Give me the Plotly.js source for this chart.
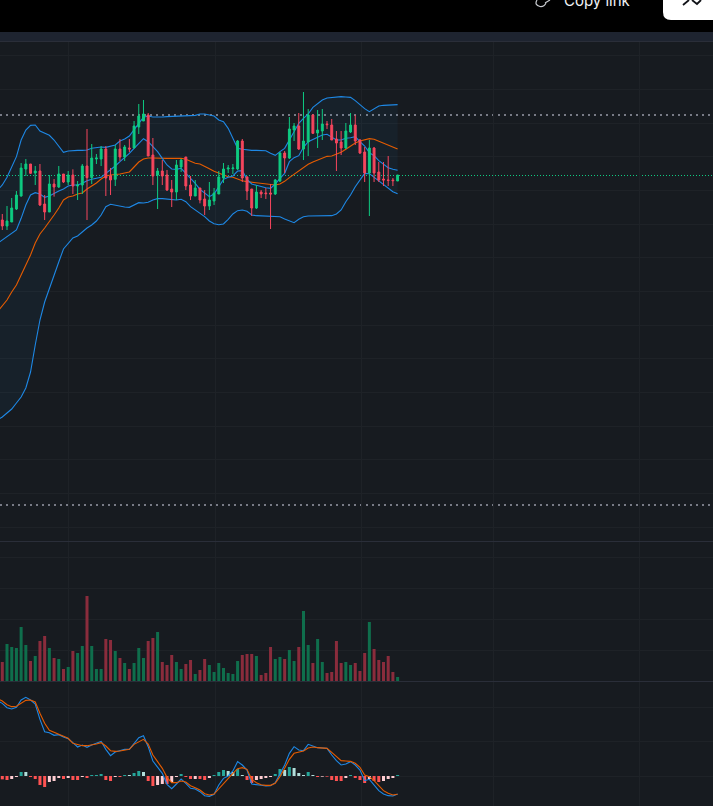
<!DOCTYPE html>
<html>
<head>
<meta charset="utf-8">
<script src="https://cdn.plot.ly/plotly-3.0.1.min.js"></script>
<style>html,body{margin:0;padding:0;background:#171b20;overflow:hidden}#chart{width:713px;height:806px}</style>
</head>
<body>
<div id="chart"></div>
<script>
const opens=[1625,1610,1592,1604,1643,1682,1763,1778,1751,1757,1658,1634,1718,1709,1748,1724,1745,1712,1715,1772,1737,1793,1793,1823,1742,1732,1823,1799,1826,1826,1889,1907,1925,1805,1745,1757,1745,1703,1694,1769,1799,1715,1682,1706,1673,1652,1667,1688,1736,1763,1764,1763,1847,1739,1703,1646,1694,1691,1691,1688,1727,1811,1796,1880,1892,1823,1844,1925,1871,1877,1898,1895,1853,1844,1826,1874,1895,1850,1814,1751,1826,1754,1733,1730,1730,1727];
const highs=[1640,1628,1652,1676,1697,1781,1793,1778,1772,1778,1685,1745,1733,1772,1748,1757,1762,1727,1778,1883,1838,1808,1832,1832,1766,1835,1853,1835,1853,1907,1958,1970,1931,1856,1766,1790,1760,1730,1790,1793,1799,1742,1730,1706,1700,1724,1706,1757,1781,1775,1778,1850,1853,1742,1703,1715,1700,1706,1718,1733,1814,1817,1919,1901,1931,1994,1943,1928,1940,1943,1907,1913,1877,1877,1901,1931,1925,1853,1829,1850,1829,1784,1784,1802,1736,1745];
const lows=[1590,1580,1580,1604,1640,1680,1742,1748,1715,1652,1610,1634,1680,1706,1721,1715,1688,1670,1688,1610,1718,1778,1772,1682,1685,1712,1787,1787,1814,1826,1868,1907,1802,1715,1643,1715,1697,1649,1670,1754,1700,1670,1682,1660,1625,1640,1655,1688,1721,1751,1748,1760,1724,1670,1622,1643,1676,1673,1583,1685,1724,1751,1793,1847,1820,1790,1802,1868,1826,1850,1883,1850,1757,1805,1823,1871,1835,1808,1724,1622,1724,1724,1712,1712,1712,1727];
const closes=[1610,1592,1607,1646,1685,1766,1778,1750,1757,1655,1634,1718,1709,1748,1724,1745,1712,1715,1772,1737,1796,1796,1823,1736,1730,1823,1799,1829,1823,1892,1922,1928,1802,1742,1757,1742,1700,1694,1775,1790,1712,1682,1706,1670,1652,1670,1691,1739,1763,1766,1766,1847,1736,1697,1646,1694,1688,1689,1688,1730,1811,1796,1883,1892,1823,1847,1925,1870,1880,1898,1896,1850,1841,1826,1877,1895,1847,1811,1751,1826,1751,1730,1730,1729,1728,1745];
const bandUpper=[1700,1715,1738,1768,1800,1850,1880,1894,1895,1877,1870,1864,1850,1830,1813,1817,1819,1819,1819,1820,1825,1828,1829,1828,1832,1835,1847,1853,1862,1882,1900,1918,1922,1919,1918,1919,1920,1921,1922,1923,1923,1924,1924,1928,1928,1925,1922,1910,1905,1885,1855,1825,1822,1820,1819,1819,1818,1818,1810,1804,1815,1825,1850,1875,1900,1915,1928,1948,1960,1970,1976,1977,1980,1980,1979,1978,1968,1955,1944,1935,1943,1952,1954,1954,1955,1956];
const bandLower=[1010,1019,1031,1043,1061,1079,1106,1154,1235,1310,1364,1406,1445,1484,1523,1538,1556,1562,1574,1586,1595,1607,1625,1650,1657,1654,1651,1649,1648,1655,1662,1661,1663,1670,1674,1674,1672,1670,1670,1672,1665,1650,1640,1630,1620,1607,1599,1596,1598,1612,1628,1638,1640,1636,1625,1623,1622,1622,1621,1621,1620,1613,1607,1602,1612,1620,1622,1622,1622,1622,1622,1623,1628,1640,1665,1685,1710,1730,1750,1749,1738,1728,1715,1704,1695,1689];
const maFast=[1540,1550,1560,1570,1580,1615,1655,1685,1692,1688,1678,1682,1690,1697,1703,1712,1715,1715,1720,1728,1732,1735,1738,1750,1760,1772,1785,1797,1810,1825,1840,1854,1845,1830,1815,1795,1775,1763,1762,1765,1750,1738,1720,1702,1690,1680,1688,1710,1732,1738,1742,1757,1758,1732,1718,1714,1710,1707,1705,1718,1735,1750,1785,1797,1803,1828,1845,1852,1857,1865,1867,1858,1850,1850,1855,1857,1860,1845,1832,1812,1803,1788,1777,1767,1762,1759];
const maSlow=[1335,1352,1370,1394,1415,1445,1475,1505,1541,1568,1586,1604,1625,1646,1670,1679,1682,1688,1691,1703,1712,1721,1733,1742,1745,1746,1748,1751,1754,1769,1784,1793,1796,1796,1795,1795,1795,1795,1795,1795,1792,1785,1780,1778,1772,1764,1756,1750,1744,1740,1738,1732,1728,1725,1723,1722,1720,1719,1717,1715,1718,1726,1737,1747,1757,1768,1777,1784,1789,1796,1801,1802,1807,1813,1822,1831,1841,1847,1851,1854,1852,1846,1840,1833,1828,1823];
const volumes=[40,57,111,102,99,162,108,60,75,120,135,99,69,66,36,42,90,84,105,255,105,36,36,126,123,90,69,54,36,54,99,69,120,129,147,57,48,78,57,36,51,63,21,33,66,48,27,54,39,24,21,60,78,81,81,75,18,24,102,66,72,66,93,60,102,210,108,54,126,57,24,27,120,54,57,48,54,30,84,177,96,63,57,75,27,12];
const macdLine=[226,218,205,201,206,228,236,228,216,170,133,130,122,124,117,112,100,87,93,86,93,98,104,80,61,72,76,80,80,98,115,121,88,45,25,8,-25,-38,-24,-9,-22,-37,-39,-47,-59,-61,-55,-27,-7,0,15,43,33,18,-24,-27,-28,-30,-29,-20,8,33,68,88,78,76,95,90,85,84,83,63,46,33,36,43,33,18,-14,-10,-27,-44,-54,-59,-60,-54];
const signalLine=[232,225,214,208,209,218,227,228,222,188,158,137,131,125,120,113,98,95,91,91,93,96,100,90,76,74,75,78,80,95,103,110,96,63,43,23,-4,-20,-20,-15,-18,-29,-35,-42,-53,-57,-54,-38,-21,-7,8,22,25,20,-10,-20,-26,-28,-28,-22,-2,23,50,68,72,75,84,87,85,84,83,71,58,46,45,44,38,26,3,-2,-14,-30,-44,-52,-57,-55];
const histValues=[-8,-10,-12,-9,-3,12,12,-3,-9,-27,-33,-18,-15,-6,-9,-6,-12,-12,-3,-6,3,3,6,-12,-15,-3,-3,3,3,9,15,12,-15,-30,-27,-24,-24,-18,-3,6,-3,-9,-9,-9,-12,-6,3,12,18,15,12,21,3,-12,-21,-12,-9,-6,-3,6,21,18,27,24,9,3,12,3,-3,-2,-2,-12,-15,-15,-6,3,-6,-12,-21,-9,-15,-18,-15,-9,-6,3];
const histKinds="r r r p p t l r r r r p p p r p r r p r t t t r r p r t l t t l r r p p r p p t r r p r r p t t t l l t l r r p p p p t t l t l l l t l r p r r r r p t r r r p r r p p p t".split(" ");
const monthTicks=[15,46.3,77.4,105.4,136.4];
const levelTop=1925, levelBottom=755, lastPrice=1743.5;

const n=opens.length;
[highs,lows,closes,bandUpper,bandLower,maFast,maSlow,volumes,macdLine,signalLine,histValues,histKinds].forEach((a,k)=>{if(a.length!==n)console.error("length mismatch",k,a.length,n);});
const idx=opens.map((_,i)=>i);

const UP="#0ecb81", DOWN="#f6465d", BLUE="#1e88e5", ORANGE="#e65c00";
const VOL_UP="#0f6e4c", VOL_DOWN="#8a2c3c";
const HIST={t:"#26a69a",l:"#b2dfdb",r:"#ff5252",p:"#ffcdd2"};
const GRID="#1e2227", BG="#171b20", SEP="#2a2e39";
const LW=1.1;

const px=x=>x/713, py=y=>1-y/806;
const rect=(x0,y0,x1,y1,c)=>({type:"rect",xref:"paper",yref:"paper",x0:px(x0),x1:px(x1),y0:py(y0),y1:py(y1),fillcolor:c,line:{width:0},layer:"above"});
const hline=(v,c,w,d)=>({type:"line",xref:"paper",yref:"y",x0:0,x1:1,y0:v,y1:v,line:{color:c,width:w,dash:d},layer:"below"});
const P=(x,y)=>px(x)+","+py(y);

const traces=[
 {type:"scatter",mode:"lines",x:idx,y:bandLower,xaxis:"x",yaxis:"y",line:{color:BLUE,width:LW},hoverinfo:"skip"},
 {type:"scatter",mode:"lines",x:idx,y:bandUpper,xaxis:"x",yaxis:"y",line:{color:BLUE,width:LW},fill:"tonexty",fillcolor:"rgba(33,150,243,0.05)",hoverinfo:"skip"},
 {type:"scatter",mode:"lines",x:idx,y:maSlow,xaxis:"x",yaxis:"y",line:{color:ORANGE,width:LW},hoverinfo:"skip"},
 {type:"scatter",mode:"lines",x:idx,y:maFast,xaxis:"x",yaxis:"y",line:{color:BLUE,width:LW},hoverinfo:"skip"},
 {type:"candlestick",x:idx,open:opens,high:highs,low:lows,close:closes,xaxis:"x",yaxis:"y4",
  increasing:{line:{color:UP,width:1},fillcolor:UP},decreasing:{line:{color:DOWN,width:1},fillcolor:DOWN},hoverinfo:"skip"},
 {type:"bar",x:idx,y:volumes,xaxis:"x",yaxis:"y2",width:0.64,marker:{color:idx.map(i=>closes[i]>=opens[i]?VOL_UP:VOL_DOWN),line:{width:0}},hoverinfo:"skip"},
 {type:"bar",x:idx,y:histValues,xaxis:"x",yaxis:"y3",width:0.64,marker:{color:histKinds.map(k=>HIST[k]),line:{width:0}},hoverinfo:"skip"},
 {type:"scatter",mode:"lines",x:idx,y:macdLine,xaxis:"x",yaxis:"y3",line:{color:BLUE,width:LW},hoverinfo:"skip"},
 {type:"scatter",mode:"lines",x:idx,y:signalLine,xaxis:"x",yaxis:"y3",line:{color:ORANGE,width:LW},hoverinfo:"skip"}
];

const yBase={showticklabels:false,ticks:"",zeroline:false,showline:false,gridcolor:GRID,gridwidth:1,fixedrange:true};
const layout={
 width:713,height:806,margin:{l:0,r:0,t:0,b:0},showlegend:false,
 paper_bgcolor:BG,plot_bgcolor:BG,bargap:0.36,boxgap:0.42,
 xaxis:{range:[0.511,152.02],anchor:"y3",tickmode:"array",tickvals:monthTicks,showticklabels:false,ticks:"",zeroline:false,showline:false,gridcolor:GRID,gridwidth:1,rangeslider:{visible:false},fixedrange:true},
 yaxis:Object.assign({},yBase,{domain:[py(541),py(42)],range:[647,2144],tick0:689,dtick:101}),
 yaxis4:Object.assign({},yBase,{overlaying:"y",anchor:"x",range:[647,2144],showgrid:false}),
 yaxis2:Object.assign({},yBase,{domain:[py(681),py(541)],range:[0,420],tick0:0,dtick:93}),
 yaxis3:Object.assign({},yBase,{domain:[0,py(681)],range:[-90,285],tick0:0,dtick:103.5}),
 shapes:[
  rect(0,0,713,32,"#000000"),
  rect(0,32,713,41,"#1e2430"),
  rect(0,41,713,42,SEP),
  rect(0,541,713,542,SEP),
  rect(0,681,713,682,SEP),
  hline(levelTop,"#787b86",2,"2px,4px"),
  hline(levelBottom,"#787b86",2,"2px,4px"),
  hline(lastPrice,UP,1,"1px,2px"),
  {type:"path",xref:"paper",yref:"paper",layer:"above",fillcolor:"#ffffff",line:{width:0},
   path:"M"+P(663,0)+" L"+P(713,0)+" L"+P(713,20)+" L"+P(671,20)+" Q"+P(663,20)+" "+P(663,12)+" Z"},
  {type:"path",xref:"paper",yref:"paper",layer:"above",line:{color:"#111318",width:1.8},
   path:"M"+P(683,5)+" L"+P(689,0)+" M"+P(692,0)+" L"+P(697,4)+" L"+P(701,0)},
  {type:"path",xref:"paper",yref:"paper",layer:"above",line:{color:"#c8cbd0",width:1.2},
   path:"M"+P(537,0)+" Q"+P(534,5)+" "+P(540,6.5)+" Q"+P(544,7)+" "+P(546,3)+" M"+P(545,3)+" L"+P(550,0)}
 ],
 annotations:[{xref:"paper",yref:"paper",x:px(561.5),y:1,xanchor:"left",yanchor:"middle",text:"Copy link",showarrow:false,font:{family:"Inter, Roboto, sans-serif",size:15,color:"#f0f2f5"}}]
};
Plotly.newPlot("chart",traces,layout,{staticPlot:true,displayModeBar:false});
</script>
</body>
</html>
